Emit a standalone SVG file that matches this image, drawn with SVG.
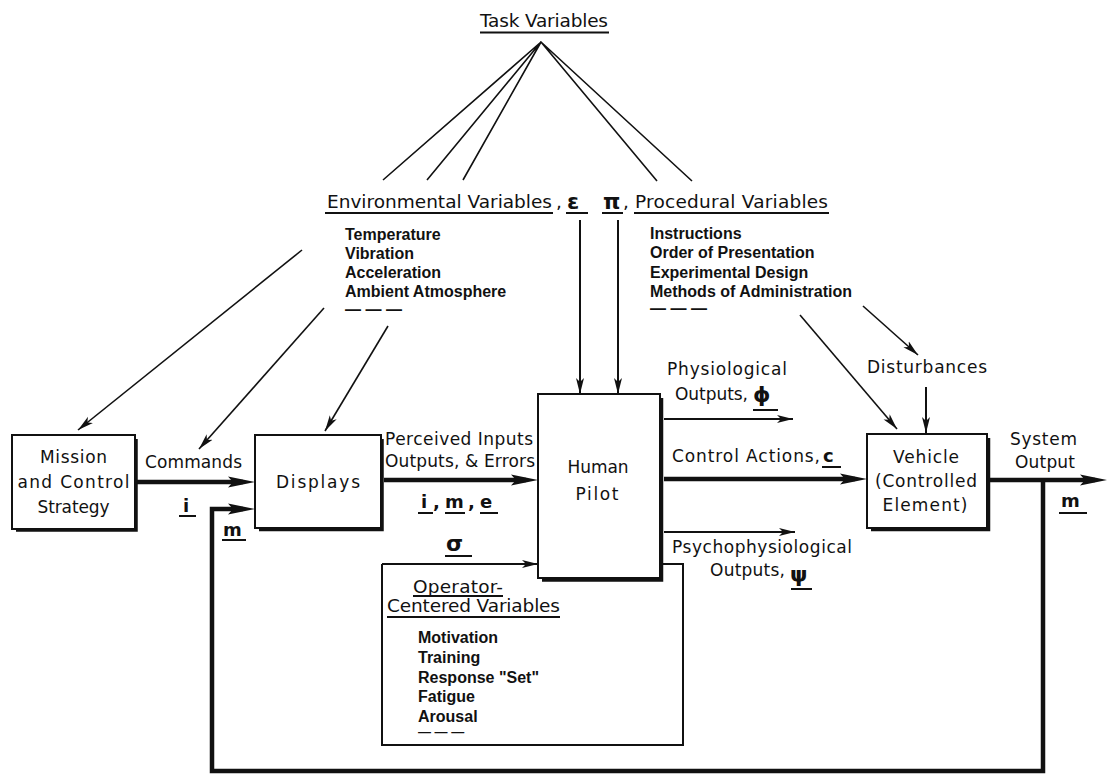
<svg xmlns="http://www.w3.org/2000/svg" width="1108" height="774" viewBox="0 0 1108 774">
<defs>
<style>
.t{font-family:"DejaVu Sans","Liberation Sans",sans-serif;font-size:17px;fill:#111}
.h{font-size:18.5px}
.l{font-family:"Liberation Sans",Arial,sans-serif;font-weight:bold;font-size:16px;fill:#111}
.v{font-family:"DejaVu Sans","Liberation Sans",sans-serif;font-weight:bold;font-size:18px;fill:#111}
.g{font-size:22px}
.box{fill:#fff;stroke:#111;stroke-width:2}
.sh{fill:none;stroke:#111;stroke-width:3.5}
.ul{stroke:#111;stroke-width:2}
.thin{stroke:#111;stroke-width:1.6;fill:none}
.med{stroke:#111;stroke-width:2;fill:none}
.thick{stroke:#111;stroke-width:4.5;fill:none;stroke-linejoin:miter}
</style>
<marker id="ah" markerUnits="userSpaceOnUse" markerWidth="18" markerHeight="10" refX="16" refY="5" orient="auto"><path d="M0,1 L16,5 L0,9 L4,5 z" fill="#111"/></marker>
<marker id="ahT" markerUnits="userSpaceOnUse" markerWidth="28" markerHeight="12" refX="15" refY="6" orient="auto"><path d="M0,0.5 L27,6 L0,11.5 L5,6 z" fill="#111"/></marker>
</defs>
<rect width="1108" height="774" fill="#fff"/>

<g id="connectors">
<path class="thin" d="M541,42 L383,180 M541,42 L427,180 M541,42 L463,180 M541,42 L657,181 M541,42 L692,181"/>
<line class="thin" x1="302" y1="250" x2="78" y2="430" marker-end="url(#ah)"/>
<line class="thin" x1="324" y1="308" x2="199" y2="449" marker-end="url(#ah)"/>
<line class="thin" x1="388" y1="326" x2="325" y2="431" marker-end="url(#ah)"/>
<line class="med" x1="580" y1="220" x2="580" y2="394" marker-end="url(#ah)"/>
<line class="med" x1="618" y1="220" x2="618" y2="394" marker-end="url(#ah)"/>
<line class="thin" x1="800" y1="315" x2="897" y2="429" marker-end="url(#ah)"/>
<line class="thin" x1="863" y1="306" x2="918" y2="355" marker-end="url(#ah)"/>
<line class="med" x1="926" y1="387" x2="926" y2="433" marker-end="url(#ah)"/>
<path class="thick" d="M137,482 H243" marker-end="url(#ahT)"/>
<path class="thick" d="M384,480 H526" marker-end="url(#ahT)"/>
<path class="thick" d="M664,479 H855" marker-end="url(#ahT)"/>
<path class="thick" d="M990,480 H1095" marker-end="url(#ahT)"/>
<path class="thick" d="M1043,480 V771 H212 V509 H243" marker-end="url(#ahT)"/>
<path class="med" d="M664,419 H793" marker-end="url(#ah)"/>
<path class="med" d="M664,532 H795" marker-end="url(#ah)"/>
<path class="med" d="M382,564 H538" marker-end="url(#ah)"/>
</g>

<g id="task-variables">
<text class="t h" x="480" y="27" textLength="128">Task Variables</text>
<line class="ul" x1="480" y1="32.5" x2="609" y2="32.5" stroke-width="2.5"/>
</g>

<g id="environmental-variables">
<text class="t h" x="327" y="208" textLength="225">Environmental Variables</text>
<line class="ul" x1="325" y1="213" x2="553" y2="213"/>
<text class="t h" x="556" y="208">,</text>
<text class="v g" x="567" y="209">ε</text>
<line class="ul" x1="566" y1="213" x2="588" y2="213" stroke-width="2.5"/>
<text class="l" x="345" y="240">Temperature</text>
<text class="l" x="345" y="259">Vibration</text>
<text class="l" x="345" y="278">Acceleration</text>
<text class="l" x="345" y="297">Ambient Atmosphere</text>
<text class="l" x="345" y="315">— — —</text>
</g>

<g id="procedural-variables">
<text class="v g" x="603" y="209">π</text>
<line class="ul" x1="602" y1="213" x2="623" y2="213" stroke-width="2.5"/>
<text class="t h" x="623" y="208">,</text>
<text class="t h" x="635" y="208" textLength="193">Procedural Variables</text>
<line class="ul" x1="634" y1="213" x2="829" y2="213"/>
<text class="l" x="650" y="239">Instructions</text>
<text class="l" x="650" y="258">Order of Presentation</text>
<text class="l" x="650" y="278">Experimental Design</text>
<text class="l" x="650" y="297">Methods of Administration</text>
<text class="l" x="650" y="314">— — —</text>
</g>

<g id="mission">
<rect class="box" x="12" y="435" width="123" height="94"/>
<path class="sh" d="M136,439 V530 H16"/>
<text class="t" x="73.5" y="463" text-anchor="middle" textLength="67">Mission</text>
<text class="t" x="73.5" y="488" text-anchor="middle" textLength="112">and Control</text>
<text class="t" x="73.5" y="513" text-anchor="middle" textLength="72">Strategy</text>
</g>

<g id="displays">
<rect class="box" x="255" y="435" width="126" height="93"/>
<path class="sh" d="M382,439 V529.5 H259"/>
<text class="t" x="318" y="488" text-anchor="middle" textLength="84">Displays</text>
</g>

<g id="human-pilot">
<rect class="box" x="538" y="394" width="122" height="184"/>
<path class="sh" d="M661.5,398 V580 H542"/>
<text class="t" x="598" y="473" text-anchor="middle" textLength="61">Human</text>
<text class="t" x="597" y="500" text-anchor="middle" textLength="43">Pilot</text>
</g>

<g id="vehicle">
<rect class="box" x="867" y="434" width="120" height="94"/>
<path class="sh" d="M988.5,438 V529.5 H871"/>
<text class="t" x="926" y="463" text-anchor="middle" textLength="66">Vehicle</text>
<text class="t" x="926" y="487" text-anchor="middle" textLength="102">(Controlled</text>
<text class="t" x="925" y="511" text-anchor="middle" textLength="85">Element)</text>
</g>

<g id="operator-centered-variables">
<path class="med" d="M660,564 H683 V745 H382 V564"/>
<text class="t h" x="413" y="593" textLength="90">Operator-</text>
<line class="ul" x1="413" y1="596" x2="503" y2="596"/>
<text class="t h" x="387" y="612" textLength="173">Centered Variables</text>
<line class="ul" x1="387" y1="617" x2="560" y2="617"/>
<text class="l" x="418" y="643">Motivation</text>
<text class="l" x="418" y="663">Training</text>
<text class="l" x="418" y="683">Response "Set"</text>
<text class="l" x="418" y="702">Fatigue</text>
<text class="l" x="418" y="722">Arousal</text>
<text class="l" x="418" y="736" style="font-size:13px">— — —</text>
</g>

<g id="disturbances">
<text class="t" x="867" y="373" textLength="120">Disturbances</text>
</g>

<g id="labels">
<text class="t" x="145" y="468" textLength="97">Commands</text>
<text class="v" x="183" y="512">i</text>
<line class="ul" x1="179" y1="516" x2="196" y2="516"/>
<text class="v" x="223" y="536">m</text>
<line class="ul" x1="222" y1="540" x2="246" y2="540"/>

<text class="t" x="385" y="445" textLength="148">Perceived Inputs</text>
<text class="t" x="385" y="467" textLength="150">Outputs, &amp; Errors</text>
<text class="v" x="421" y="508">i</text>
<text class="v" x="433" y="508">,</text>
<text class="v" x="445" y="508">m</text>
<text class="v" x="468" y="508">,</text>
<text class="v" x="480" y="508">e</text>
<line class="ul" x1="418" y1="513" x2="433" y2="513"/>
<line class="ul" x1="445" y1="513" x2="465" y2="513"/>
<line class="ul" x1="480" y1="513" x2="498" y2="513"/>

<text class="v g" x="446" y="551">σ</text>
<line class="ul" x1="445" y1="556" x2="472" y2="556"/>

<text class="t" x="667" y="375" textLength="120">Physiological</text>
<text class="t" x="675" y="400" textLength="73">Outputs,</text>
<text class="v g" x="753" y="402">ϕ</text>
<line class="ul" x1="753" y1="410" x2="778" y2="410"/>

<text class="t" x="672" y="462" textLength="148">Control Actions,</text>
<text class="v" x="823" y="462">c</text>
<line class="ul" x1="822" y1="467" x2="841" y2="467"/>

<text class="t" x="672" y="553" textLength="180">Psychophysiological</text>
<text class="t" x="710" y="576" textLength="75">Outputs,</text>
<text class="v g" x="790" y="582">ψ</text>
<line class="ul" x1="791" y1="589" x2="812" y2="589"/>

<text class="t" x="1010" y="445" textLength="67">System</text>
<text class="t" x="1015" y="468" textLength="60">Output</text>
<text class="v" x="1061" y="507">m</text>
<line class="ul" x1="1059" y1="513" x2="1087" y2="513"/>
</g>
</svg>
